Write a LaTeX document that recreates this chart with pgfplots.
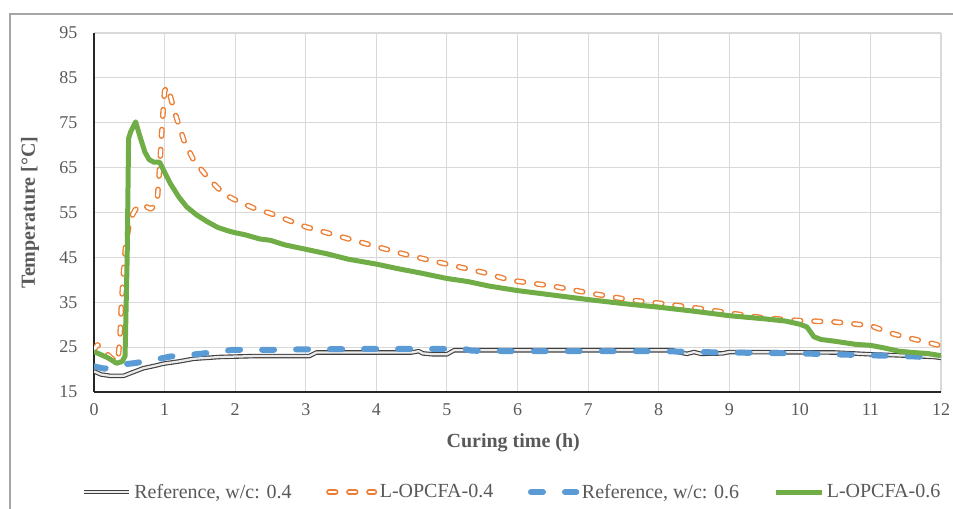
\documentclass[border=0pt]{standalone}
\usepackage{fontspec}
\setmainfont{Liberation Serif}
\usepackage{pgfplots}
\pgfplotsset{compat=1.18}
\definecolor{axgray}{HTML}{595959}
\definecolor{gridgray}{HTML}{D9D9D9}
\definecolor{framegray}{HTML}{A6A6A6}
\definecolor{xlorange}{HTML}{ED7D31}
\definecolor{xlblue}{HTML}{5B9BD5}
\definecolor{xlgreen}{HTML}{70AD47}
\definecolor{xldark}{HTML}{404040}
\begin{document}
\begin{tikzpicture}
\useasboundingbox (0,0) rectangle (714.75pt,381.75pt);
\draw[framegray, line width=1.1pt] (7.5pt,0pt) -- (7.5pt,371.25pt) -- (714.75pt,371.25pt);
\begin{axis}[
  at={(70.5pt,87.75pt)}, anchor=south west,
  scale only axis, width=635.25pt, height=269.25pt,
  xmin=0, xmax=12, ymin=15, ymax=95,
  xtick={0,1,...,12}, ytick={15,25,...,95},
  axis x line*=bottom, axis y line*=left,
  axis line style={-, draw=black!85, line width=1.5pt},
  major tick length=0pt,
  grid=major, major grid style={draw=gridgray, line width=0.8pt},
  /pgf/number format/assume math mode=true,
  tick label style={font=\fontsize{13.5}{15}\selectfont, text=axgray},
  xticklabel style={yshift=-5pt},
  yticklabel style={xshift=-9pt},
  xlabel={\textbf{Curing time (h)}},
  ylabel={\textbf{Temperature [°C]}},
  label style={font=\fontsize{15}{17}\selectfont, text=axgray},
  xlabel style={at={(axis description cs:0.495,-0.142)}, anchor=center},
  ylabel style={at={(axis description cs:-0.0756,0.5)}, anchor=center, rotate=0},
  legend style={at={(axis description cs:0.494,-0.2786)}, anchor=center, draw=none,
    font=\fontsize{15}{17}\selectfont, text=axgray, inner sep=0pt,
    /tikz/every even column/.append style={column sep=24pt}},
  legend columns=4,
  legend cell align=left,
  legend image code/.code={\draw[#1] (0pt,0pt) -- (34pt,0pt);},
  every axis plot/.append style={line join=round},
]
% Reference, w/c: 0.4
\addplot[draw=xldark, double=white!92!black, line width=0.85pt, double distance=1.7pt] coordinates {
(0,19.6) (0.1,18.9) (0.23,18.6) (0.42,18.6) (0.55,19.4) (0.7,20.3) (0.85,20.8) (0.98,21.3) (1.2,21.8) (1.41,22.4) (1.78,22.8) (2.26,23.0) (3.05,23.0) (3.15,23.8) (4.5,23.8) (4.6,24.1) (4.66,23.6) (4.8,23.4) (5.0,23.4) (5.1,24.3) (6,24.3) (7,24.3) (8.2,24.3) (8.3,23.8) (8.4,23.5) (8.5,23.9) (8.6,23.5) (8.9,23.6) (9.0,23.9) (10.5,23.8) (11.0,23.4) (11.5,23.1) (11.9,22.8) (12,22.6)
};
\addlegendentry{Reference, w/c: 0.4}
% L-OPCFA-0.4
\addplot[draw=xlorange, double=white, line width=1.0pt, double distance=2.2pt, line cap=round, dash pattern=on 5pt off 10pt] coordinates {
(0,24.5) (0.05,25.5) (0.15,24) (0.25,22.5) (0.34,21.8) (0.37,28) (0.39,35) (0.42,42) (0.45,48) (0.51,53.4) (0.58,55.5) (0.65,56.7) (0.72,56.5) (0.8,55.8) (0.87,56.5) (0.9,58.5) (0.93,65) (0.97,75.6) (1.0,82) (1.03,83) (1.08,81) (1.15,77) (1.27,71.2) (1.41,66.7) (1.6,63.0) (1.75,60.5) (1.88,58.8) (2.0,57.8) (2.26,56.0) (2.5,54.8) (3.0,51.8) (3.5,49.6) (4.0,47.4) (4.5,45.3) (5.0,43.5) (5.5,41.7) (5.9,39.9) (6.5,38.6) (7.0,37.1) (7.6,35.5) (8.0,34.8) (8.5,33.8) (9.0,32.6) (9.5,31.5) (10.0,30.9) (10.5,30.6) (11.0,29.8) (11.27,28.2) (11.5,27.2) (11.75,26.3) (12.0,25.3)
};
\addlegendentry{L-OPCFA-0.4}
% Reference, w/c: 0.6
\addplot[draw=xlblue, line width=4.5pt, line cap=round, dash pattern=on 9pt off 16.5pt] coordinates {
(0,20.7) (0.15,20.2) (0.3,21.0) (0.56,21.4) (0.8,22.0) (1.08,22.9) (1.5,23.5) (1.97,24.4) (2.5,24.4) (3.0,24.5) (4.0,24.6) (5.0,24.6) (5.2,24.8) (5.35,24.2) (6,24.1) (7,24.1) (8,24.1) (8.9,23.8) (9.5,23.7) (10,23.6) (10.7,23.3) (11.65,22.9) (12,22.5)
};
\addlegendentry{Reference, w/c: 0.6}
% L-OPCFA-0.6
\addplot[draw=xlgreen, line width=3.75pt] coordinates {
(0,24.0) (0.1,23.3) (0.2,22.6) (0.32,21.4) (0.4,21.8) (0.44,23) (0.47,45) (0.49,71.5) (0.52,73) (0.59,75.2) (0.65,72) (0.72,68.5) (0.78,66.8) (0.85,66.2) (0.93,66.2) (1.0,64) (1.08,61.5) (1.2,58.5) (1.31,56.3) (1.45,54.5) (1.6,53.0) (1.75,51.7) (1.9,50.9) (2.0,50.5) (2.15,50.0) (2.35,49.1) (2.5,48.8) (2.7,47.8) (3.0,46.8) (3.3,45.8) (3.6,44.6) (4.0,43.5) (4.3,42.5) (4.6,41.6) (5.0,40.3) (5.3,39.6) (5.6,38.6) (6.0,37.6) (6.5,36.6) (7.0,35.6) (7.5,34.7) (8.0,33.9) (8.5,33.0) (9.0,32.0) (9.5,31.3) (9.8,30.8) (10.0,30.1) (10.1,29.5) (10.2,27.3) (10.3,26.7) (10.5,26.3) (10.8,25.6) (11.0,25.4) (11.2,24.8) (11.4,24.1) (11.6,23.8) (11.8,23.6) (12.0,23.1)
};
\addlegendentry{L-OPCFA-0.6}
\end{axis}
\end{tikzpicture}
\end{document}
